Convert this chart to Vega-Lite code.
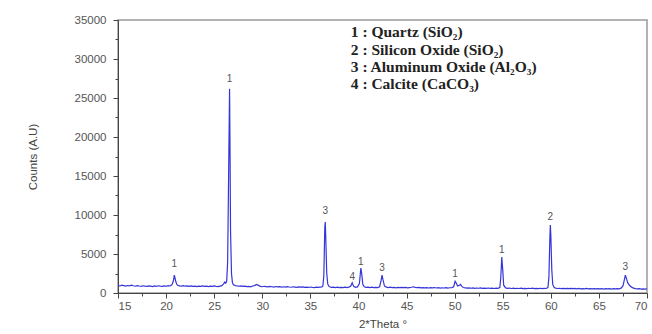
{
  "$schema": "https://vega.github.io/schema/vega-lite/v6.json",
  "width": 529,
  "height": 273,
  "autosize": {"type": "none"},
  "padding": {"left": 118, "top": 20, "right": 5, "bottom": 41},
  "background": "white",
  "config": {
    "view": {"stroke": "#9a9a9a", "strokeWidth": 1.5},
    "axis": {
      "domainColor": "#444",
      "tickColor": "#444",
      "labelColor": "#555",
      "titleColor": "#444",
      "labelFont": "Liberation Sans",
      "titleFont": "Liberation Sans",
      "labelFontSize": 11.5,
      "titleFontSize": 11.5,
      "titleFontWeight": "normal",
      "grid": false
    }
  },
  "datasets": {
    "xrd": [
      {"t":15.0,"c":980},{"t":15.2,"c":900},{"t":15.4,"c":1000},{"t":15.6,"c":940},{"t":15.8,"c":880},{"t":16.0,"c":960},{"t":16.2,"c":920},{"t":16.4,"c":1010},{"t":16.6,"c":930},{"t":16.8,"c":870},
      {"t":17.0,"c":950},{"t":17.2,"c":900},{"t":17.4,"c":860},{"t":17.6,"c":930},{"t":17.8,"c":880},{"t":18.0,"c":840},{"t":18.2,"c":910},{"t":18.4,"c":870},{"t":18.6,"c":820},{"t":18.8,"c":900},
      {"t":19.0,"c":860},{"t":19.2,"c":930},{"t":19.4,"c":880},{"t":19.6,"c":850},{"t":19.8,"c":920},{"t":20.0,"c":870},{"t":20.2,"c":950},{"t":20.4,"c":900},{"t":20.6,"c":1050},{"t":20.7,"c":1300},
      {"t":20.8,"c":1800},{"t":20.85,"c":2300},{"t":20.9,"c":2100},{"t":21.0,"c":1500},{"t":21.1,"c":1150},{"t":21.2,"c":1000},{"t":21.4,"c":920},{"t":21.6,"c":880},{"t":21.8,"c":950},{"t":22.0,"c":870},
      {"t":22.2,"c":900},{"t":22.4,"c":840},{"t":22.6,"c":910},{"t":22.8,"c":860},{"t":23.0,"c":890},{"t":23.2,"c":830},{"t":23.4,"c":880},{"t":23.6,"c":850},{"t":23.8,"c":900},{"t":24.0,"c":840},
      {"t":24.2,"c":870},{"t":24.4,"c":820},{"t":24.6,"c":880},{"t":24.8,"c":850},{"t":25.0,"c":900},{"t":25.2,"c":860},{"t":25.4,"c":830},{"t":25.6,"c":890},{"t":25.8,"c":950},{"t":26.0,"c":1200},
      {"t":26.1,"c":1400},{"t":26.2,"c":1250},{"t":26.3,"c":1500},{"t":26.4,"c":4000},{"t":26.5,"c":15000},{"t":26.6,"c":26200},{"t":26.65,"c":18000},{"t":26.7,"c":8000},{"t":26.8,"c":2500},{"t":26.9,"c":1300},
      {"t":27.0,"c":1050},{"t":27.2,"c":950},{"t":27.4,"c":900},{"t":27.6,"c":870},{"t":27.8,"c":920},{"t":28.0,"c":850},{"t":28.2,"c":880},{"t":28.4,"c":820},{"t":28.6,"c":860},{"t":28.8,"c":800},
      {"t":29.0,"c":900},{"t":29.2,"c":950},{"t":29.4,"c":1100},{"t":29.6,"c":980},{"t":29.8,"c":850},{"t":30.0,"c":800},{"t":30.2,"c":860},{"t":30.4,"c":820},{"t":30.6,"c":780},{"t":30.8,"c":840},
      {"t":31.0,"c":800},{"t":31.2,"c":760},{"t":31.4,"c":830},{"t":31.6,"c":790},{"t":31.8,"c":820},{"t":32.0,"c":760},{"t":32.2,"c":800},{"t":32.4,"c":750},{"t":32.6,"c":810},{"t":32.8,"c":770},
      {"t":33.0,"c":740},{"t":33.2,"c":800},{"t":33.4,"c":760},{"t":33.6,"c":720},{"t":33.8,"c":790},{"t":34.0,"c":750},{"t":34.2,"c":780},{"t":34.4,"c":720},{"t":34.6,"c":760},{"t":34.8,"c":710},
      {"t":35.0,"c":770},{"t":35.2,"c":730},{"t":35.4,"c":700},{"t":35.6,"c":760},{"t":35.8,"c":720},{"t":36.0,"c":750},{"t":36.2,"c":780},{"t":36.3,"c":900},{"t":36.4,"c":2200},{"t":36.5,"c":8400},
      {"t":36.55,"c":9100},{"t":36.6,"c":7200},{"t":36.7,"c":2600},{"t":36.8,"c":1200},{"t":36.9,"c":900},{"t":37.0,"c":800},{"t":37.2,"c":720},{"t":37.4,"c":760},{"t":37.6,"c":700},{"t":37.8,"c":740},
      {"t":38.0,"c":680},{"t":38.2,"c":720},{"t":38.4,"c":700},{"t":38.6,"c":740},{"t":38.8,"c":690},{"t":39.0,"c":760},{"t":39.2,"c":900},{"t":39.35,"c":1300},{"t":39.5,"c":850},{"t":39.7,"c":720},
      {"t":39.9,"c":780},{"t":40.1,"c":1200},{"t":40.25,"c":3200},{"t":40.35,"c":2400},{"t":40.45,"c":1100},{"t":40.6,"c":800},{"t":40.8,"c":720},{"t":41.0,"c":760},{"t":41.2,"c":700},{"t":41.4,"c":740},
      {"t":41.6,"c":690},{"t":41.8,"c":730},{"t":42.0,"c":700},{"t":42.2,"c":800},{"t":42.35,"c":1600},{"t":42.45,"c":2300},{"t":42.55,"c":1700},{"t":42.7,"c":900},{"t":42.9,"c":760},{"t":43.1,"c":700},
      {"t":43.3,"c":740},{"t":43.5,"c":680},{"t":43.7,"c":720},{"t":43.9,"c":670},{"t":44.1,"c":710},{"t":44.3,"c":690},{"t":44.5,"c":730},{"t":44.7,"c":680},{"t":44.9,"c":720},{"t":45.1,"c":660},
      {"t":45.3,"c":700},{"t":45.5,"c":740},{"t":45.7,"c":800},{"t":45.9,"c":720},{"t":46.1,"c":680},{"t":46.3,"c":710},{"t":46.5,"c":660},{"t":46.7,"c":700},{"t":46.9,"c":650},{"t":47.1,"c":690},
      {"t":47.3,"c":640},{"t":47.5,"c":680},{"t":47.7,"c":650},{"t":47.9,"c":700},{"t":48.1,"c":640},{"t":48.3,"c":680},{"t":48.5,"c":630},{"t":48.7,"c":670},{"t":48.9,"c":640},{"t":49.1,"c":690},
      {"t":49.3,"c":630},{"t":49.5,"c":670},{"t":49.7,"c":700},{"t":49.9,"c":800},{"t":50.05,"c":1500},{"t":50.15,"c":1300},{"t":50.3,"c":900},{"t":50.5,"c":1000},{"t":50.6,"c":1100},{"t":50.75,"c":850},
      {"t":50.9,"c":700},{"t":51.1,"c":660},{"t":51.3,"c":620},{"t":51.5,"c":660},{"t":51.7,"c":610},{"t":51.9,"c":650},{"t":52.1,"c":600},{"t":52.3,"c":640},{"t":52.5,"c":610},{"t":52.7,"c":650},
      {"t":52.9,"c":590},{"t":53.1,"c":630},{"t":53.3,"c":600},{"t":53.5,"c":640},{"t":53.7,"c":590},{"t":53.9,"c":620},{"t":54.1,"c":580},{"t":54.3,"c":620},{"t":54.5,"c":600},{"t":54.7,"c":700},
      {"t":54.8,"c":2000},{"t":54.9,"c":4600},{"t":55.0,"c":3000},{"t":55.1,"c":1000},{"t":55.3,"c":650},{"t":55.5,"c":600},{"t":55.7,"c":630},{"t":55.9,"c":580},{"t":56.1,"c":620},{"t":56.3,"c":570},
      {"t":56.5,"c":610},{"t":56.7,"c":580},{"t":56.9,"c":620},{"t":57.1,"c":570},{"t":57.3,"c":600},{"t":57.5,"c":560},{"t":57.7,"c":610},{"t":57.9,"c":580},{"t":58.1,"c":620},{"t":58.3,"c":560},
      {"t":58.5,"c":600},{"t":58.7,"c":570},{"t":58.9,"c":610},{"t":59.1,"c":560},{"t":59.3,"c":600},{"t":59.5,"c":580},{"t":59.7,"c":700},{"t":59.8,"c":2000},{"t":59.9,"c":7000},{"t":59.95,"c":8700},
      {"t":60.0,"c":7500},{"t":60.1,"c":3000},{"t":60.2,"c":1100},{"t":60.35,"c":700},{"t":60.5,"c":620},{"t":60.7,"c":580},{"t":60.9,"c":610},{"t":61.1,"c":560},{"t":61.3,"c":600},{"t":61.5,"c":550},
      {"t":61.7,"c":590},{"t":61.9,"c":560},{"t":62.1,"c":600},{"t":62.3,"c":550},{"t":62.5,"c":580},{"t":62.7,"c":540},{"t":62.9,"c":580},{"t":63.1,"c":530},{"t":63.3,"c":570},{"t":63.5,"c":540},
      {"t":63.7,"c":580},{"t":63.9,"c":530},{"t":64.1,"c":560},{"t":64.3,"c":520},{"t":64.5,"c":560},{"t":64.7,"c":530},{"t":64.9,"c":570},{"t":65.1,"c":520},{"t":65.3,"c":550},{"t":65.5,"c":510},
      {"t":65.7,"c":550},{"t":65.9,"c":520},{"t":66.1,"c":560},{"t":66.3,"c":510},{"t":66.5,"c":550},{"t":66.7,"c":520},{"t":66.9,"c":560},{"t":67.1,"c":540},{"t":67.3,"c":620},{"t":67.5,"c":900},
      {"t":67.65,"c":1700},{"t":67.75,"c":2300},{"t":67.85,"c":1900},{"t":68.0,"c":1300},{"t":68.2,"c":950},{"t":68.4,"c":750},{"t":68.6,"c":620},{"t":68.8,"c":560},{"t":69.0,"c":520},{"t":69.2,"c":560},
      {"t":69.4,"c":500},{"t":69.6,"c":540},{"t":69.8,"c":490},{"t":70.0,"c":520}
    ],
    "peaks": [
      {"t":20.85,"c":3700,"lab":"1"},
      {"t":26.6,"c":27400,"lab":"1"},
      {"t":36.55,"c":10500,"lab":"3"},
      {"t":39.35,"c":2000,"lab":"4"},
      {"t":40.25,"c":4000,"lab":"1"},
      {"t":42.45,"c":3200,"lab":"3"},
      {"t":50.05,"c":2500,"lab":"1"},
      {"t":54.9,"c":5500,"lab":"1"},
      {"t":59.95,"c":9800,"lab":"2"},
      {"t":67.75,"c":3300,"lab":"3"}
    ],
    "legend": [
      {"t":39.2,"c":33400,"lab":"1 : Quartz (SiO₂)"},
      {"t":39.2,"c":31200,"lab":"2 : Silicon Oxide (SiO₂)"},
      {"t":39.2,"c":29000,"lab":"3 : Aluminum Oxide (Al₂O₃)"},
      {"t":39.2,"c":26800,"lab":"4 : Calcite (CaCO₃)"}
    ]
  },
  "encoding": {
    "x": {
      "field": "t", "type": "quantitative",
      "scale": {"domain": [15, 70], "nice": false, "zero": false},
      "axis": {
        "title": "2*Theta °",
        "values": [15,17.5,20,22.5,25,27.5,30,32.5,35,37.5,40,42.5,45,47.5,50,52.5,55,57.5,60,62.5,65,67.5,70],
        "labelExpr": "datum.value % 5 === 0 ? datum.label : ''",
        "tickSize": {"condition": {"test": "datum.value % 5 === 0", "value": 5}, "value": 3},
        "labelPadding": 2,
        "titlePadding": 7
      }
    },
    "y": {
      "field": "c", "type": "quantitative",
      "scale": {"domain": [0, 35000], "nice": false},
      "axis": {
        "title": "Counts (A.U)",
        "values": [0,2500,5000,7500,10000,12500,15000,17500,20000,22500,25000,27500,30000,32500,35000],
        "labelExpr": "datum.value % 5000 === 0 ? format(datum.value, 'd') : ''",
        "tickSize": {"condition": {"test": "datum.value % 5000 === 0", "value": 5}, "value": 3},
        "labelPadding": 7,
        "titlePadding": 36
      }
    }
  },
  "layer": [
    {
      "data": {"name": "xrd"},
      "mark": {"type": "line", "color": "#3535d8", "strokeWidth": 1.2, "clip": true}
    },
    {
      "data": {"name": "peaks"},
      "mark": {"type": "text", "font": "Liberation Sans", "fontSize": 10, "color": "#555", "baseline": "middle", "align": "center"},
      "encoding": {"text": {"field": "lab"}}
    },
    {
      "data": {"name": "legend"},
      "mark": {"type": "text", "font": "Liberation Serif", "fontWeight": "bold", "fontSize": 15.5, "color": "#222", "baseline": "middle", "align": "left"},
      "encoding": {"text": {"field": "lab"}}
    }
  ]
}
